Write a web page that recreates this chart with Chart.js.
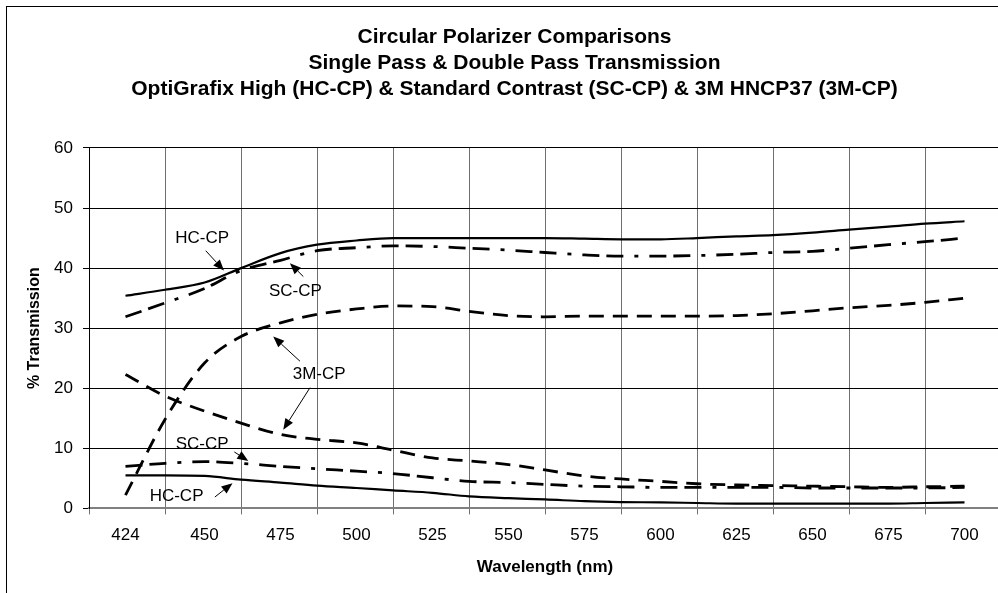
<!DOCTYPE html>
<html>
<head>
<meta charset="utf-8">
<script src="https://cdn.jsdelivr.net/npm/chart.js@4.4.1/dist/chart.umd.min.js"></script>
<style>
  html, body { margin: 0; padding: 0; background: #fff; overflow: hidden; width: 998px; height: 593px; }
  #wrap { position: absolute; left: 0; top: 0; width: 1030px; height: 593px; }
  #frame { position: absolute; left: 6px; top: 6px; width: 1200px; height: 1000px;
           border-left: 1px solid #000; border-top: 1px solid #000; pointer-events: none; }
</style>
</head>
<body>
<div id="wrap"><canvas id="c" width="1030" height="593"></canvas></div>
<div id="frame"></div>
<script>
// ---- data (wavelength in nm, % transmission) ----
const wavelengths = [424, 437, 450, 462, 475, 487, 500, 512, 525, 537, 550, 562, 575, 587, 600, 612, 625, 637, 650, 662, 675, 687, 700];

const hcSingle  = [35.4, 36.4, 37.6, 40.0, 42.5, 43.9, 44.6, 45.0, 45.0, 45.0, 45.0, 45.0, 44.9, 44.8, 44.8, 45.0, 45.3, 45.5, 45.9, 46.4, 46.9, 47.4, 47.8];
const scSingle  = [31.9, 34.2, 36.6, 39.6, 41.3, 42.9, 43.4, 43.7, 43.6, 43.3, 43.0, 42.6, 42.2, 42.0, 42.0, 42.1, 42.3, 42.6, 42.8, 43.3, 43.9, 44.4, 45.0];
const m3Single  = [2.2, 14.8, 24.2, 28.6, 30.9, 32.3, 33.2, 33.7, 33.6, 32.8, 32.1, 31.9, 32.0, 32.0, 32.0, 32.0, 32.1, 32.4, 32.9, 33.4, 33.8, 34.3, 35.0];
const m3Double  = [22.3, 18.7, 16.2, 14.2, 12.3, 11.5, 10.9, 9.7, 8.4, 7.9, 7.3, 6.4, 5.4, 4.9, 4.5, 4.1, 3.9, 3.8, 3.7, 3.6, 3.5, 3.6, 3.7];
const scDouble  = [7.0, 7.5, 7.8, 7.5, 7.0, 6.6, 6.2, 5.8, 5.1, 4.5, 4.3, 4.0, 3.7, 3.6, 3.5, 3.5, 3.5, 3.5, 3.4, 3.4, 3.4, 3.4, 3.5];
const hcDouble  = [5.5, 5.5, 5.4, 4.8, 4.3, 3.8, 3.4, 3.0, 2.6, 2.0, 1.7, 1.5, 1.2, 1.05, 1.0, 0.9, 0.8, 0.8, 0.8, 0.8, 0.8, 0.9, 1.0];

const xTickLabels = [424, 450, 475, 500, 525, 550, 575, 600, 625, 650, 675, 700];
const yTickValues = [0, 10, 20, 30, 40, 50, 60];

const titleLines = [
  'Circular Polarizer Comparisons',
  'Single Pass & Double Pass Transmission',
  'OptiGrafix High (HC-CP) & Standard Contrast (SC-CP) & 3M HNCP37 (3M-CP)'
];

// callout labels (data-space positions)
const notes = [
  { text: 'HC-CP', x: 449.2, y: 45.0, arrows: [[450.4, 42.9, 456.4, 39.6]] },
  { text: 'SC-CP', x: 479.9, y: 36.1, arrows: [[482.5, 38.6, 478.1, 40.8]] },
  { text: '3M-CP', x: 487.7, y: 22.3, arrows: [[481.4, 24.5, 472.6, 28.6], [484.7, 20.1, 475.9, 13.1]] },
  { text: 'SC-CP', x: 449.2, y: 10.6, arrows: [[459.8, 9.4, 464.4, 7.9]] },
  { text: 'HC-CP', x: 440.8, y: 2.0, arrows: [[453.4, 1.9, 459.2, 4.2]] }
];

const FONT = '"Liberation Sans", Arial, sans-serif';
const pts = arr => wavelengths.map((w, i) => ({ x: w, y: arr[i] }));

const AXIS_MIN = 412, AXIS_MAX = 712, CAT = 25;
const boundaryTicks = [];
for (let v = AXIS_MIN; v <= AXIS_MAX; v += CAT) boundaryTicks.push(v);
const allXTicks = boundaryTicks.concat(xTickLabels).sort((a, b) => a - b);

const SOLID = [], DASHDOT = [17, 7, 17, 11, 4, 11], DASH = [15, 9];

function series(label, arr, dash, width) {
  return {
    label, data: pts(arr), borderColor: '#000', backgroundColor: '#000',
    borderWidth: width, borderDash: dash, pointRadius: 0, fill: false,
    cubicInterpolationMode: 'monotone', borderCapStyle: 'butt'
  };
}

const notePlugin = {
  id: 'notes',
  afterDatasetsDraw(chart) {
    const { ctx } = chart;
    const xs = chart.scales.x, ys = chart.scales.y;
    ctx.save();
    ctx.fillStyle = '#000';
    ctx.strokeStyle = '#000';
    ctx.lineWidth = 1;
    ctx.font = '17px ' + FONT;
    ctx.textAlign = 'center';
    ctx.textBaseline = 'middle';
    notes.forEach(n => {
      ctx.fillText(n.text, xs.getPixelForValue(n.x), ys.getPixelForValue(n.y));
      n.arrows.forEach(a => {
        const x1 = xs.getPixelForValue(a[0]), y1 = ys.getPixelForValue(a[1]);
        const x2 = xs.getPixelForValue(a[2]), y2 = ys.getPixelForValue(a[3]);
        const ang = Math.atan2(y2 - y1, x2 - x1);
        const L = 11, H = 4.5;
        const bx = x2 - L * Math.cos(ang), by = y2 - L * Math.sin(ang);
        ctx.beginPath();
        ctx.moveTo(x1, y1);
        ctx.lineTo(bx, by);
        ctx.stroke();
        ctx.beginPath();
        ctx.moveTo(x2, y2);
        ctx.lineTo(bx + H * Math.sin(ang), by - H * Math.cos(ang));
        ctx.lineTo(bx - H * Math.sin(ang), by + H * Math.cos(ang));
        ctx.closePath();
        ctx.fill();
      });
    });
    ctx.restore();
  }
};

new Chart(document.getElementById('c'), {
  type: 'line',
  data: {
    datasets: [
      series('HC-CP single pass', hcSingle, SOLID, 2.2),
      series('SC-CP single pass', scSingle, DASHDOT, 2.8),
      series('3M-CP single pass', m3Single, DASH, 2.8),
      series('3M-CP double pass', m3Double, DASH, 2.8),
      series('SC-CP double pass', scDouble, DASHDOT, 2.8),
      series('HC-CP double pass', hcDouble, SOLID, 2.2)
    ]
  },
  plugins: [notePlugin],
  options: {
    responsive: false,
    animation: false,
    devicePixelRatio: 1,
    layout: { padding: { left: 9.5, right: 10.5, top: 10, bottom: 15.8 } },
    plugins: {
      legend: { display: false },
      tooltip: { enabled: false },
      title: {
        display: true,
        text: titleLines,
        color: '#000',
        font: { family: FONT, size: 21, weight: 'bold', lineHeight: 1.238 },
        padding: { top: 14.5, bottom: 45.5 }
      }
    },
    scales: {
      x: {
        type: 'linear',
        min: AXIS_MIN,
        max: AXIS_MAX,
        afterBuildTicks: scale => { scale.ticks = allXTicks.map(v => ({ value: v })); },
        ticks: {
          autoSkip: false, maxRotation: 0, minRotation: 0, padding: 11,
          color: '#000', font: { family: FONT, size: 17 },
          callback: v => xTickLabels.includes(v) ? String(v) : ''
        },
        grid: {
          color: ctx => (ctx.tick && xTickLabels.includes(ctx.tick.value)) ? 'rgba(0,0,0,0)' : '#707070',
          lineWidth: 1, tickLength: 6, drawTicks: true
        },
        border: { color: '#808080', width: 2 },
        title: {
          display: true, text: 'Wavelength (nm)', color: '#000',
          font: { family: FONT, size: 17, weight: 'bold' },
          padding: { top: 0, bottom: 0 }
        }
      },
      y: {
        min: 0, max: 60,
        afterBuildTicks: scale => { scale.ticks = yTickValues.map(v => ({ value: v })); },
        ticks: { padding: 10, color: '#000', font: { family: FONT, size: 17 } },
        grid: { color: '#000', tickColor: '#000', lineWidth: 1, tickLength: 6 },
        border: { color: '#000', width: 1 },
        title: {
          display: true, text: '% Transmission', color: '#000',
          font: { family: FONT, size: 16, weight: 'bold' },
          padding: { top: 15.4, bottom: 0 }
        }
      },
      // empty spacer on the right so the title centres over the whole chart box
      yRight: {
        type: 'linear', position: 'right', display: true,
        grid: { display: false, drawTicks: false },
        ticks: { display: false },
        border: { display: false },
        afterFit: scale => { scale.width = 18.5; }
      }
    }
  }
});
</script>
</body>
</html>
